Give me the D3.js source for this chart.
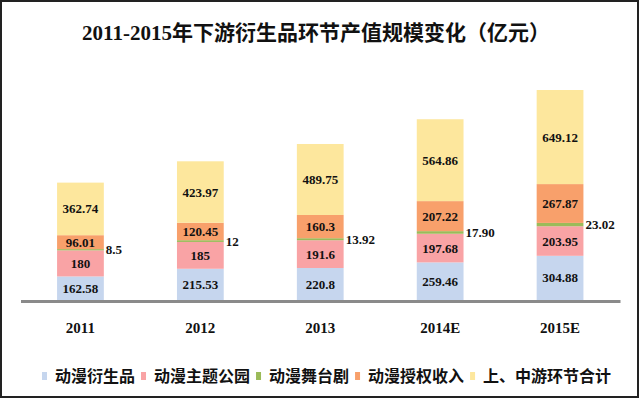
<!DOCTYPE html>
<html>
<head>
<meta charset="utf-8">
<script src="https://cdn.jsdelivr.net/npm/d3@7"></script>
<style>
  html, body { margin: 0; padding: 0; background: #fff; }
  svg { display: block; }
</style>
</head>
<body>
<svg id="chart" width="640" height="399"></svg>
<script>
// ---- data ----
const years = ["2011", "2012", "2013", "2014E", "2015E"];
const seriesNames = ["动漫衍生品", "动漫主题公园", "动漫舞台剧", "动漫授权收入", "上、中游环节合计"];
const derivative = [162.58, 215.53, 220.8, 259.46, 304.88];
const themePark = [180, 185, 191.6, 197.68, 203.95];
const stage = [8.5, 12, 13.92, 17.90, 23.02];
const licensing = [96.01, 120.45, 160.3, 207.22, 267.87];
const upstream = [362.74, 423.97, 489.75, 564.86, 649.12];
const stageLabels = ["8.5", "12", "13.92", "17.90", "23.02"];
const titleText = "2011-2015年下游衍生品环节产值规模变化（亿元）";

// ---- styles ----
const colors = ["#c6d6ee", "#f9a3a5", "#9bbb59", "#f8a06b", "#fde79d"];
const keys = ["derivative", "themePark", "stage", "licensing", "upstream"];

const table = years.map((y, i) => ({
  year: y,
  derivative: derivative[i],
  themePark: themePark[i],
  stage: stage[i],
  licensing: licensing[i],
  upstream: upstream[i],
  stageLabel: stageLabels[i]
}));

const svg = d3.select("#chart");
const serif = "'Liberation Serif', 'Times New Roman', 'Noto Sans CJK SC', serif";
const cjk = "'Noto Sans CJK SC', sans-serif";

// frame
svg.append("rect")
  .attr("x", 1).attr("y", 1).attr("width", 637).attr("height", 396)
  .attr("fill", "#fff").attr("stroke", "#222").attr("stroke-width", 2);

// title
svg.append("text")
  .attr("x", 316).attr("y", 40)
  .attr("text-anchor", "middle")
  .attr("font-family", serif)
  .attr("font-weight", "bold")
  .attr("font-size", 21)
  .attr("fill", "#111")
  .text(titleText);

const baseY = 300;
const x = d3.scaleBand().domain(years).range([20.5, 620]).paddingInner(0.61).paddingOuter(0.305);
const y = d3.scaleLinear().domain([0, 1500]).range([baseY, baseY - 1500 * 0.14494]);

const stacked = d3.stack().keys(keys)(table);

const layers = svg.append("g").selectAll("g")
  .data(stacked).join("g")
  .attr("fill", (d, i) => colors[i]);

layers.selectAll("rect")
  .data(d => d).join("rect")
  .attr("x", d => x(d.data.year))
  .attr("width", x.bandwidth())
  .attr("y", d => y(d[1]))
  .attr("height", d => y(d[0]) - y(d[1]));

// axis
const axis = svg.append("g")
  .attr("transform", `translate(0,${baseY + 1})`)
  .call(d3.axisBottom(x).tickSize(0).tickSizeOuter(0).tickPadding(21));
axis.select(".domain").attr("stroke", "#8a8a8a").attr("stroke-width", 3);
axis.selectAll("text")
  .attr("font-family", serif)
  .attr("font-weight", "bold")
  .attr("font-size", 15)
  .attr("fill", "#111");

// value labels
const labelG = svg.append("g")
  .attr("font-family", serif)
  .attr("font-weight", "bold")
  .attr("font-size", 13)
  .attr("fill", "#111");

stacked.forEach((layer, li) => {
  layer.forEach(d => {
    const key = keys[li];
    const cy = (y(d[0]) + y(d[1])) / 2;
    if (key === "stage") {
      labelG.append("text")
        .attr("x", x(d.data.year) + x.bandwidth() + 2)
        .attr("y", cy)
        .attr("dy", "0.35em")
        .attr("text-anchor", "start")
        .text(d.data.stageLabel);
    } else {
      labelG.append("text")
        .attr("x", x(d.data.year) + x.bandwidth() / 2)
        .attr("y", cy)
        .attr("dy", "0.35em")
        .attr("text-anchor", "middle")
        .text(d.data[key]);
    }
  });
});

// legend
const legend = svg.append("g");
let lx = 42;
const ly = 376;
seriesNames.forEach((name, i) => {
  legend.append("rect")
    .attr("x", lx).attr("y", ly - 4).attr("width", 5).attr("height", 8)
    .attr("fill", colors[i]);
  lx += 5 + 8;
  const t = legend.append("text")
    .attr("x", lx).attr("y", ly)
    .attr("dy", "0.36em")
    .attr("font-family", cjk)
    .attr("font-weight", "bold")
    .attr("font-size", 16)
    .attr("fill", "#111")
    .text(name);
  lx += t.node().getComputedTextLength() + 6;
});
</script>
</body>
</html>
